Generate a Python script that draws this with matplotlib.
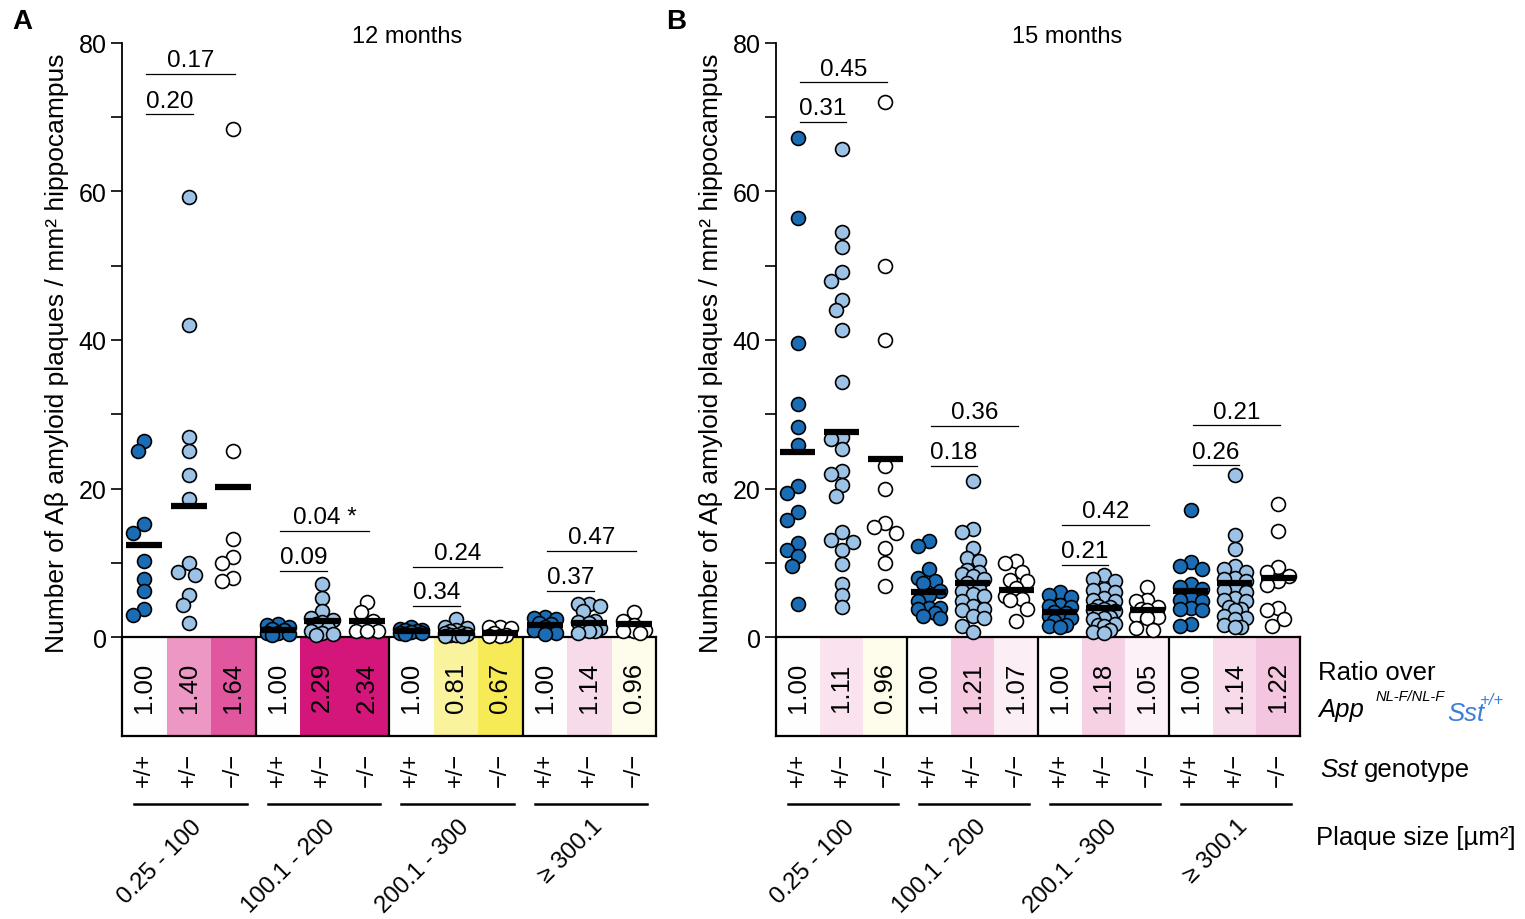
import numpy as np
import matplotlib.pyplot as plt
from matplotlib.colors import LinearSegmentedColormap, TwoSlopeNorm
from matplotlib.transforms import blended_transform_factory

# ---- data ----
size_groups = ["0.25 - 100", "100.1 - 200", "200.1 - 300", "\u2265 300.1"]
genotypes = ["+/+", "+/\u2212", "\u2212/\u2212"]

# 12 months, one list per plaque-size group
a12_wt = [[26.4, 25.0, 15.2, 14.0, 10.3, 7.8, 6.2, 3.8, 2.9],
          [1.8, 1.6, 1.4, 1.1, 0.9, 0.6, 0.5, 0.4, 0.3],
          [1.3, 1.1, 1.0, 0.9, 0.8, 0.7, 0.6, 0.5, 0.4],
          [2.7, 2.5, 2.4, 1.9, 1.7, 1.4, 0.9, 0.6, 0.4]]
a12_het = [[59.2, 42.0, 26.9, 25.0, 21.8, 18.6, 9.9, 8.7, 8.4, 5.7, 4.3, 1.9],
           [7.1, 5.2, 3.5, 2.6, 2.3, 2.0, 1.8, 1.2, 0.8, 0.5, 0.4, 0.3],
           [2.4, 1.3, 1.2, 1.0, 0.8, 0.6, 0.5, 0.4, 0.3, 0.3, 0.2, 0.2],
           [4.5, 4.4, 4.2, 3.5, 2.2, 2.0, 1.9, 1.2, 0.9, 0.8, 0.8, 0.5]]
a12_ko = [[68.4, 25.0, 13.2, 10.8, 10.0, 8.0, 7.6],
          [4.7, 3.3, 2.2, 1.4, 0.8, 0.8, 0.8],
          [1.4, 1.3, 1.2, 0.5, 0.3, 0.2, 0.2],
          [3.3, 2.1, 1.6, 0.9, 0.8, 0.8, 0.6]]
a12_mean = [[12.4, 17.6, 20.2], [0.95, 2.15, 2.2], [0.8, 0.6, 0.5], [1.6, 1.9, 1.75]]
a12_ratio = [[1.00, 1.40, 1.64], [1.00, 2.29, 2.34], [1.00, 0.81, 0.67], [1.00, 1.14, 0.96]]
a12_p = [("0.20", "0.17"), ("0.09", "0.04 *"), ("0.34", "0.24"), ("0.37", "0.47")]
a12_pos = [(70.4, 75.8), (8.9, 14.3), (4.2, 9.4), (6.2, 11.6)]

# 15 months
b15_wt = [[67.2, 56.4, 39.6, 31.4, 28.3, 25.8, 20.3, 19.4, 16.8, 15.7, 12.7, 11.7, 10.9, 9.5, 4.4],
          [12.9, 12.3, 9.1, 7.9, 7.5, 7.3, 6.2, 5.7, 4.9, 3.9, 3.9, 3.8, 3.2, 2.8, 2.5],
          [6.0, 5.6, 5.4, 4.3, 4.2, 4.1, 3.4, 3.2, 2.8, 2.7, 2.6, 2.2, 1.6, 1.5, 1.4],
          [17.1, 10.1, 9.6, 9.1, 7.2, 6.8, 6.5, 5.3, 5.0, 4.8, 3.9, 3.8, 3.6, 1.7, 1.5]]
b15_het = [[65.7, 54.5, 52.5, 49.2, 48.0, 45.4, 44.0, 41.3, 34.4, 26.9, 26.6, 25.3,
            22.4, 22.0, 20.5, 19.0, 14.1, 13.1, 12.8, 11.7, 9.8, 7.2, 5.6, 4.0],
           [21.0, 14.6, 14.2, 12.0, 10.6, 10.3, 9.0, 8.7, 8.5, 8.2, 7.8, 7.3,
            6.5, 6.2, 5.8, 5.5, 4.8, 4.2, 3.8, 3.6, 2.8, 2.5, 1.5, 0.7],
           [8.3, 7.8, 7.5, 6.5, 6.3, 6.1, 5.2, 5.0, 4.8, 4.2, 4.0, 3.8,
            3.7, 3.5, 2.9, 2.7, 2.6, 2.4, 1.7, 1.6, 1.5, 0.9, 0.7, 0.6],
           [21.8, 13.8, 11.8, 9.6, 9.2, 8.8, 8.0, 7.8, 7.5, 6.6, 6.3, 6.0,
            5.2, 5.0, 4.8, 4.0, 3.8, 3.6, 2.8, 2.6, 2.4, 1.6, 1.4, 1.3]]
b15_ko = [[72.0, 50.0, 40.0, 23.0, 19.9, 15.3, 14.8, 14.0, 12.0, 10.0, 6.9],
          [10.2, 9.9, 8.7, 7.7, 7.6, 6.6, 5.5, 5.1, 5.0, 3.8, 2.1],
          [6.8, 5.0, 4.8, 4.0, 3.8, 3.6, 3.0, 2.7, 2.5, 1.2, 1.0],
          [17.9, 14.3, 9.4, 8.8, 8.2, 7.6, 7.0, 3.9, 3.7, 2.4, 1.5]]
b15_mean = [[24.9, 27.6, 24.0], [6.1, 7.3, 6.3], [3.3, 3.9, 3.7], [6.2, 7.3, 7.9]]
b15_ratio = [[1.00, 1.11, 0.96], [1.00, 1.21, 1.07], [1.00, 1.18, 1.05], [1.00, 1.14, 1.22]]
b15_p = [("0.31", "0.45"), ("0.18", "0.36"), ("0.21", "0.42"), ("0.26", "0.21")]
b15_pos = [(69.4, 74.7), (23.0, 28.4), (9.7, 15.1), (23.1, 28.5)]

# ---- style ----
W, H = 1525, 920
plt.rcParams['font.family'] = ['Liberation Sans', 'DejaVu Sans']
fig = plt.figure(figsize=(W / 100, H / 100), dpi=100)

dot_colors = ['#1a6db5', '#9cc3e6', '#ffffff']
cmap = LinearSegmentedColormap.from_list('ratio', ['#f6e94c', '#ffffff', '#d4157a'])
norm = TwoSlopeNorm(vmin=0.65, vcenter=1.0, vmax=1.9)

Y_TOP, Y_ZERO, Y_BOX = 44, 638, 737
PX_PER_UNIT = (Y_ZERO - Y_TOP) / 80.0


def fx(px):
    return px / W


def fy(py):
    return 1 - py / H


def swarm(vals, colw, diam=11.5):
    """simple beeswarm: x offsets (in columns), three lanes, overlap allowed when crowded"""
    cands = np.array([0, -6, 6, -11, 11])
    placed = []
    offs = np.zeros(len(vals))
    order = np.argsort(vals)[::-1]
    for i in order:
        yp = vals[i] * PX_PER_UNIT
        best, best_d = 0.0, -1
        for c in cands:
            d = min([np.hypot(c - px, yp - py) for px, py in placed] or [99])
            if d >= diam:
                best = c
                break
            if d > best_d:
                best, best_d = c, d
        placed.append((best, yp))
        offs[i] = best / colw
    return offs


def draw_panel(x0, x1, wt, het, ko, means, ratios, pvals, ppos, title, title_x, letter):
    colw = (x1 - x0) / 12.0
    ax_r = fig.add_axes([fx(x0), fy(Y_BOX), fx(x1) - fx(x0), fy(Y_ZERO) - fy(Y_BOX)])
    ax = fig.add_axes([fx(x0), fy(Y_ZERO), fx(x1) - fx(x0), fy(Y_TOP) - fy(Y_ZERO)])
    ax.patch.set_alpha(0)

    # ratio strip
    for g in range(4):
        for k in range(3):
            xc = g * 3 + k
            ax_r.bar(xc, 1, width=1.0, bottom=0, color=cmap(norm(ratios[g][k])), linewidth=0)
            ax_r.text(xc, 0.5, f"{ratios[g][k]:.2f}", rotation=90, ha='center', va='center', fontsize=18.5)
        if g > 0:
            ax_r.axvline(g * 3 - 0.5, color='black', lw=1.6)
    ax_r.set_xlim(-0.5, 11.5)
    ax_r.set_ylim(0, 1)
    ax_r.set_xticks([])
    ax_r.set_yticks([])
    for s in ax_r.spines.values():
        s.set_linewidth(1.6)

    # dots + means
    for g in range(4):
        for k, series in enumerate([wt, het, ko]):
            vals = np.array(series[g])
            xc = g * 3 + k
            offs = swarm(vals, colw)
            ax.scatter(xc + offs, vals, s=100, c=dot_colors[k], edgecolors='black',
                       linewidths=1.2, zorder=3, clip_on=False)
            ax.plot([xc - 0.4, xc + 0.4], [means[g][k]] * 2, color='black', lw=4.5,
                    solid_capstyle='butt', zorder=4, clip_on=False)
        # p-value brackets
        c0 = g * 3
        for (txt, yv, xend) in [(pvals[g][0], ppos[g][0], c0 + 1.1), (pvals[g][1], ppos[g][1], c0 + 2.05)]:
            ax.plot([c0 + 0.05, xend], [yv, yv], color='black', lw=0.9, zorder=2)
            ax.annotate(txt, ((c0 + 0.05 + xend) / 2, yv), xytext=(0, 2), textcoords='offset points',
                        ha='center', va='bottom', fontsize=17.5)

    ax.set_xlim(-0.5, 11.5)
    ax.set_ylim(0, 80)
    ax.set_xticks([])
    ax.set_yticks([0, 20, 40, 60, 80])
    ax.set_yticks([10, 30, 50, 70], minor=True)
    ax.tick_params(axis='y', which='both', length=8, width=1.2, labelsize=18, pad=3)
    for side in ['top', 'right', 'bottom']:
        ax.spines[side].set_visible(False)
    ax.spines['left'].set_linewidth(1.3)
    ax.set_ylabel("Number of A\u03b2 amyloid plaques / mm\u00b2 hippocampus", fontsize=19)
    ax.yaxis.set_label_coords(-53.0 / (x1 - x0), 0.48)

    # genotype labels, group lines, size labels
    tr = blended_transform_factory(ax_r.transData, fig.transFigure)
    for g in range(4):
        for k in range(3):
            ax_r.text(g * 3 + k, fy(770), genotypes[k], rotation=90, ha='center', va='center',
                      fontsize=17, transform=tr)
        ax_r.plot([g * 3 - 0.22, g * 3 + 2.3], [fy(805)] * 2, color='black', lw=1.8,
                  transform=tr, clip_on=False)
        ax_r.text(g * 3 + 1.05, fy(816), size_groups[g], rotation=45, rotation_mode='anchor',
                  ha='right', va='top', fontsize=17.3, transform=tr)

    fig.text(fx(title_x), fy(37), title, ha='center', va='center', fontsize=17)
    fig.text(fx(x0 - 100), fy(22), letter, ha='center', va='center', fontsize=20, fontweight='bold')


draw_panel(122, 656, a12_wt, a12_het, a12_ko, a12_mean, a12_ratio, a12_p, a12_pos, "12 months", 407, "A")
draw_panel(776, 1300, b15_wt, b15_het, b15_ko, b15_mean, b15_ratio, b15_p, b15_pos, "15 months", 1067, "B")

# right-hand annotations
fig.text(fx(1318), fy(673), "Ratio over", fontsize=18.5, va='center', ha='left')
fig.text(fx(1318), fy(710), "App", fontsize=18.5, style='italic', va='center', ha='left')
fig.text(fx(1376), fy(697), "NL-F/NL-F", fontsize=10.5, style='italic', va='center', ha='left')
fig.text(fx(1447), fy(714), "Sst", fontsize=18.5, style='italic', color='#3b7dd8', va='center', ha='left')
fig.text(fx(1480), fy(701), "+/+", fontsize=12, style='italic', color='#3b7dd8', va='center', ha='left')
fig.text(fx(1320), fy(770), "Sst", fontsize=18.5, style='italic', va='center', ha='left')
fig.text(fx(1364), fy(770), "genotype", fontsize=18.5, va='center', ha='left')
fig.text(fx(1316), fy(838), "Plaque size [\u00b5m\u00b2]", fontsize=18.5, va='center', ha='left')

fig.savefig("out.png", dpi=100)
